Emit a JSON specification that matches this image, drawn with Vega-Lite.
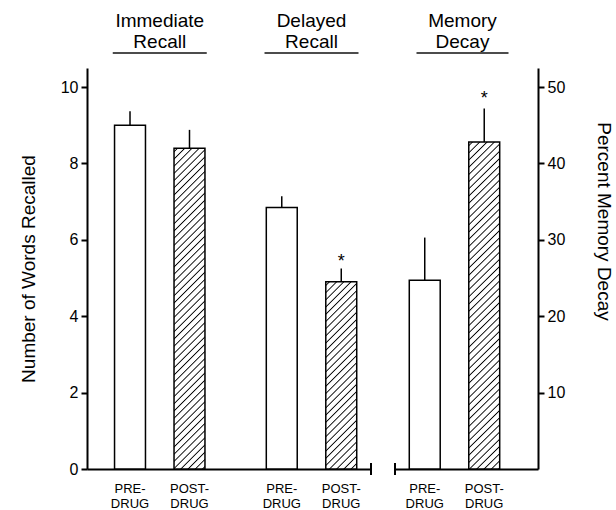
{
  "$schema": "https://vega.github.io/schema/vega-lite/v6.json",
  "background": "white",
  "padding": {"left": 19, "top": 12, "right": 10, "bottom": 0},
  "params": [
    {"name": "hatch", "value": [
      {"offset":0.0065,"color":"#fff"},{"offset":0.01,"color":"#000"},{"offset":0.0135,"color":"#fff"},
      {"offset":0.0265,"color":"#fff"},{"offset":0.03,"color":"#000"},{"offset":0.0335,"color":"#fff"},
      {"offset":0.0465,"color":"#fff"},{"offset":0.05,"color":"#000"},{"offset":0.0535,"color":"#fff"},
      {"offset":0.0665,"color":"#fff"},{"offset":0.07,"color":"#000"},{"offset":0.0735,"color":"#fff"},
      {"offset":0.0865,"color":"#fff"},{"offset":0.09,"color":"#000"},{"offset":0.0935,"color":"#fff"},
      {"offset":0.1065,"color":"#fff"},{"offset":0.11,"color":"#000"},{"offset":0.1135,"color":"#fff"},
      {"offset":0.1265,"color":"#fff"},{"offset":0.13,"color":"#000"},{"offset":0.1335,"color":"#fff"},
      {"offset":0.1465,"color":"#fff"},{"offset":0.15,"color":"#000"},{"offset":0.1535,"color":"#fff"},
      {"offset":0.1665,"color":"#fff"},{"offset":0.17,"color":"#000"},{"offset":0.1735,"color":"#fff"},
      {"offset":0.1865,"color":"#fff"},{"offset":0.19,"color":"#000"},{"offset":0.1935,"color":"#fff"},
      {"offset":0.2065,"color":"#fff"},{"offset":0.21,"color":"#000"},{"offset":0.2135,"color":"#fff"},
      {"offset":0.2265,"color":"#fff"},{"offset":0.23,"color":"#000"},{"offset":0.2335,"color":"#fff"},
      {"offset":0.2465,"color":"#fff"},{"offset":0.25,"color":"#000"},{"offset":0.2535,"color":"#fff"},
      {"offset":0.2665,"color":"#fff"},{"offset":0.27,"color":"#000"},{"offset":0.2735,"color":"#fff"},
      {"offset":0.2865,"color":"#fff"},{"offset":0.29,"color":"#000"},{"offset":0.2935,"color":"#fff"},
      {"offset":0.3065,"color":"#fff"},{"offset":0.31,"color":"#000"},{"offset":0.3135,"color":"#fff"},
      {"offset":0.3265,"color":"#fff"},{"offset":0.33,"color":"#000"},{"offset":0.3335,"color":"#fff"},
      {"offset":0.3465,"color":"#fff"},{"offset":0.35,"color":"#000"},{"offset":0.3535,"color":"#fff"},
      {"offset":0.3665,"color":"#fff"},{"offset":0.37,"color":"#000"},{"offset":0.3735,"color":"#fff"},
      {"offset":0.3865,"color":"#fff"},{"offset":0.39,"color":"#000"},{"offset":0.3935,"color":"#fff"},
      {"offset":0.4065,"color":"#fff"},{"offset":0.41,"color":"#000"},{"offset":0.4135,"color":"#fff"},
      {"offset":0.4265,"color":"#fff"},{"offset":0.43,"color":"#000"},{"offset":0.4335,"color":"#fff"},
      {"offset":0.4465,"color":"#fff"},{"offset":0.45,"color":"#000"},{"offset":0.4535,"color":"#fff"},
      {"offset":0.4665,"color":"#fff"},{"offset":0.47,"color":"#000"},{"offset":0.4735,"color":"#fff"},
      {"offset":0.4865,"color":"#fff"},{"offset":0.49,"color":"#000"},{"offset":0.4935,"color":"#fff"},
      {"offset":0.5065,"color":"#fff"},{"offset":0.51,"color":"#000"},{"offset":0.5135,"color":"#fff"},
      {"offset":0.5265,"color":"#fff"},{"offset":0.53,"color":"#000"},{"offset":0.5335,"color":"#fff"},
      {"offset":0.5465,"color":"#fff"},{"offset":0.55,"color":"#000"},{"offset":0.5535,"color":"#fff"},
      {"offset":0.5665,"color":"#fff"},{"offset":0.57,"color":"#000"},{"offset":0.5735,"color":"#fff"},
      {"offset":0.5865,"color":"#fff"},{"offset":0.59,"color":"#000"},{"offset":0.5935,"color":"#fff"},
      {"offset":0.6065,"color":"#fff"},{"offset":0.61,"color":"#000"},{"offset":0.6135,"color":"#fff"},
      {"offset":0.6265,"color":"#fff"},{"offset":0.63,"color":"#000"},{"offset":0.6335,"color":"#fff"},
      {"offset":0.6465,"color":"#fff"},{"offset":0.65,"color":"#000"},{"offset":0.6535,"color":"#fff"},
      {"offset":0.6665,"color":"#fff"},{"offset":0.67,"color":"#000"},{"offset":0.6735,"color":"#fff"},
      {"offset":0.6865,"color":"#fff"},{"offset":0.69,"color":"#000"},{"offset":0.6935,"color":"#fff"},
      {"offset":0.7065,"color":"#fff"},{"offset":0.71,"color":"#000"},{"offset":0.7135,"color":"#fff"},
      {"offset":0.7265,"color":"#fff"},{"offset":0.73,"color":"#000"},{"offset":0.7335,"color":"#fff"},
      {"offset":0.7465,"color":"#fff"},{"offset":0.75,"color":"#000"},{"offset":0.7535,"color":"#fff"},
      {"offset":0.7665,"color":"#fff"},{"offset":0.77,"color":"#000"},{"offset":0.7735,"color":"#fff"},
      {"offset":0.7865,"color":"#fff"},{"offset":0.79,"color":"#000"},{"offset":0.7935,"color":"#fff"},
      {"offset":0.8065,"color":"#fff"},{"offset":0.81,"color":"#000"},{"offset":0.8135,"color":"#fff"},
      {"offset":0.8265,"color":"#fff"},{"offset":0.83,"color":"#000"},{"offset":0.8335,"color":"#fff"},
      {"offset":0.8465,"color":"#fff"},{"offset":0.85,"color":"#000"},{"offset":0.8535,"color":"#fff"},
      {"offset":0.8665,"color":"#fff"},{"offset":0.87,"color":"#000"},{"offset":0.8735,"color":"#fff"},
      {"offset":0.8865,"color":"#fff"},{"offset":0.89,"color":"#000"},{"offset":0.8935,"color":"#fff"},
      {"offset":0.9065,"color":"#fff"},{"offset":0.91,"color":"#000"},{"offset":0.9135,"color":"#fff"},
      {"offset":0.9265,"color":"#fff"},{"offset":0.93,"color":"#000"},{"offset":0.9335,"color":"#fff"},
      {"offset":0.9465,"color":"#fff"},{"offset":0.95,"color":"#000"},{"offset":0.9535,"color":"#fff"},
      {"offset":0.9665,"color":"#fff"},{"offset":0.97,"color":"#000"},{"offset":0.9735,"color":"#fff"},
      {"offset":0.9865,"color":"#fff"},{"offset":0.99,"color":"#000"},{"offset":0.9935,"color":"#fff"}
    ]}
  ],
  "data": {"values": [
    {"group": "Immediate Recall", "heading": "Immediate\nRecall", "cond": "PRE", "label": "PRE-\nDRUG", "mean": 9.0, "upper": 9.37, "sig": false},
    {"group": "Immediate Recall", "heading": "Immediate\nRecall", "cond": "POST", "label": "POST-\nDRUG", "mean": 8.4, "upper": 8.88, "sig": false},
    {"group": "Delayed Recall", "heading": "Delayed\nRecall", "cond": "PRE", "label": "PRE-\nDRUG", "mean": 6.85, "upper": 7.14, "sig": false},
    {"group": "Delayed Recall", "heading": "Delayed\nRecall", "cond": "POST", "label": "POST-\nDRUG", "mean": 4.9, "upper": 5.25, "sig": true},
    {"group": "Memory Decay", "heading": "Memory\nDecay", "cond": "PRE", "label": "PRE-\nDRUG", "mean": 24.7, "upper": 30.3, "sig": false},
    {"group": "Memory Decay", "heading": "Memory\nDecay", "cond": "POST", "label": "POST-\nDRUG", "mean": 42.8, "upper": 47.2, "sig": true}
  ]},
  "spacing": 24,
  "bounds": "flush",
  "hconcat": [
    {
      "width": 284,
      "height": 401,
      "transform": [{"filter": "datum.group !== 'Memory Decay'"}],
      "encoding": {
        "x": {"field": "group", "type": "nominal", "title": null,
              "scale": {"domain": ["Immediate Recall", "Delayed Recall"], "paddingInner": 0.216, "paddingOuter": 0.0437, "align": 1}},
        "y": {"field": "mean", "type": "quantitative", "title": "Number of Words Recalled",
              "scale": {"domain": [0, 10.5], "nice": false},
              "axis": {"values": [0, 2, 4, 6, 8, 10], "tickSize": 6, "labelFontSize": 16, "labelPadding": 3, "titleFontSize": 19, "titlePadding": 22}}
      },
      "layer": [
        {"transform": [{"filter": "datum.cond === 'PRE'"}],
         "mark": {"type": "bar", "fill": "white", "stroke": "black", "strokeWidth": 1.5},
         "encoding": {"xOffset": {"field": "cond", "type": "nominal", "scale": {"domain": ["PRE", "POST"], "paddingInner": 0.48, "paddingOuter": 0.24}}}},
        {"transform": [{"filter": "datum.group === 'Immediate Recall' && datum.cond === 'POST'"}],
         "mark": {"type": "bar", "fill": {"expr": "{gradient: 'linear', x1: 0, y1: 0, x2: 0.1071, y2: 1.1119, stops: hatch}"}, "stroke": "black", "strokeWidth": 1.5},
         "encoding": {"xOffset": {"field": "cond", "type": "nominal", "scale": {"domain": ["PRE", "POST"], "paddingInner": 0.48, "paddingOuter": 0.24}}}},
        {"transform": [{"filter": "datum.group === 'Delayed Recall' && datum.cond === 'POST'"}],
         "mark": {"type": "bar", "fill": {"expr": "{gradient: 'linear', x1: 0, y1: 0, x2: 0.3093, y2: 1.8731, stops: hatch}"}, "stroke": "black", "strokeWidth": 1.5},
         "encoding": {"xOffset": {"field": "cond", "type": "nominal", "scale": {"domain": ["PRE", "POST"], "paddingInner": 0.48, "paddingOuter": 0.24}}}},
        {"mark": {"type": "rule", "stroke": "black", "strokeWidth": 1.5},
         "encoding": {"xOffset": {"field": "cond", "type": "nominal", "scale": {"domain": ["PRE", "POST"], "paddingInner": 0.48, "paddingOuter": 0.24}},
                      "y2": {"field": "upper"}}},
        {"transform": [{"filter": "datum.sig"}],
         "mark": {"type": "text", "text": "*", "fontSize": 18, "dy": -7, "font": "Liberation Sans", "color": "black"},
         "encoding": {"xOffset": {"field": "cond", "type": "nominal", "scale": {"domain": ["PRE", "POST"], "paddingInner": 0.48, "paddingOuter": 0.24}},
                      "y": {"field": "upper", "type": "quantitative"}}},
        {"mark": {"type": "text", "lineBreak": "\n", "fontSize": 13, "lineHeight": 15, "baseline": "alphabetic", "dy": 24, "font": "Liberation Sans", "color": "black"},
         "encoding": {"xOffset": {"field": "cond", "type": "nominal", "scale": {"domain": ["PRE", "POST"], "paddingInner": 0.48, "paddingOuter": 0.24}},
                      "y": {"datum": 0},
                      "text": {"field": "label"}}},
        {"transform": [{"filter": "datum.cond === 'PRE'"}],
         "mark": {"type": "text", "lineBreak": "\n", "fontSize": 19, "lineHeight": 21, "baseline": "alphabetic", "dy": -41, "font": "Liberation Sans", "color": "black"},
         "encoding": {"y": {"datum": 10.5}, "text": {"field": "heading"}}},
        {"transform": [{"filter": "datum.cond === 'PRE'"}],
         "mark": {"type": "tick", "size": 94, "thickness": 2, "color": "black", "yOffset": -15},
         "encoding": {"y": {"datum": 10.5}}},
        {"transform": [{"filter": "datum.group === 'Delayed Recall' && datum.cond === 'POST'"}],
         "mark": {"type": "rule", "stroke": "black", "strokeWidth": 2},
         "encoding": {"x": {"datum": "Delayed Recall", "bandPosition": 1}, "y": {"datum": -0.16}, "y2": {"datum": 0.16}}}
      ]
    },
    {
      "width": 143,
      "height": 401,
      "transform": [{"filter": "datum.group === 'Memory Decay'"}],
      "encoding": {
        "x": {"field": "group", "type": "nominal", "title": null,
              "scale": {"domain": ["Memory Decay"], "paddingInner": 0, "paddingOuter": 0.0296, "align": 0}},
        "y": {"field": "mean", "type": "quantitative", "title": "Percent Memory Decay",
              "scale": {"domain": [0, 52.5], "nice": false},
              "axis": {"orient": "right", "values": [10, 20, 30, 40, 50], "tickSize": 6, "labelFontSize": 16, "labelPadding": 3, "titleFontSize": 19, "titlePadding": 29, "titleY": 153}}
      },
      "layer": [
        {"transform": [{"filter": "datum.cond === 'PRE'"}],
         "mark": {"type": "bar", "fill": "white", "stroke": "black", "strokeWidth": 1.5},
         "encoding": {"xOffset": {"field": "cond", "type": "nominal", "scale": {"domain": ["PRE", "POST"], "paddingInner": 0.496, "paddingOuter": 0.364}}}},
        {"transform": [{"filter": "datum.cond === 'POST'"}],
         "mark": {"type": "bar", "fill": {"expr": "{gradient: 'linear', x1: 0, y1: 0, x2: 0.1019, y2: 1.0917, stops: hatch}"}, "stroke": "black", "strokeWidth": 1.5},
         "encoding": {"xOffset": {"field": "cond", "type": "nominal", "scale": {"domain": ["PRE", "POST"], "paddingInner": 0.496, "paddingOuter": 0.364}}}},
        {"mark": {"type": "rule", "stroke": "black", "strokeWidth": 1.5},
         "encoding": {"xOffset": {"field": "cond", "type": "nominal", "scale": {"domain": ["PRE", "POST"], "paddingInner": 0.496, "paddingOuter": 0.364}},
                      "y2": {"field": "upper"}}},
        {"transform": [{"filter": "datum.sig"}],
         "mark": {"type": "text", "text": "*", "fontSize": 18, "dy": -9, "font": "Liberation Sans", "color": "black"},
         "encoding": {"xOffset": {"field": "cond", "type": "nominal", "scale": {"domain": ["PRE", "POST"], "paddingInner": 0.496, "paddingOuter": 0.364}},
                      "y": {"field": "upper", "type": "quantitative"}}},
        {"mark": {"type": "text", "lineBreak": "\n", "fontSize": 13, "lineHeight": 15, "baseline": "alphabetic", "dy": 24, "font": "Liberation Sans", "color": "black"},
         "encoding": {"xOffset": {"field": "cond", "type": "nominal", "scale": {"domain": ["PRE", "POST"], "paddingInner": 0.496, "paddingOuter": 0.364}},
                      "y": {"datum": 0},
                      "text": {"field": "label"}}},
        {"transform": [{"filter": "datum.cond === 'PRE'"}],
         "mark": {"type": "text", "lineBreak": "\n", "fontSize": 19, "lineHeight": 21, "baseline": "alphabetic", "dy": -41, "font": "Liberation Sans", "color": "black"},
         "encoding": {"y": {"datum": 52.5}, "text": {"field": "heading"}}},
        {"transform": [{"filter": "datum.cond === 'PRE'"}],
         "mark": {"type": "tick", "size": 92, "thickness": 2, "color": "black", "yOffset": -15},
         "encoding": {"y": {"datum": 52.5}}},
        {"transform": [{"filter": "datum.cond === 'POST'"}],
         "mark": {"type": "rule", "stroke": "black", "strokeWidth": 2},
         "encoding": {"x": {"datum": "Memory Decay", "bandPosition": 0}, "y": {"datum": -0.8}, "y2": {"datum": 0.8}}}
      ]
    }
  ],
  "config": {
    "view": {"stroke": null},
    "axis": {"labelFont": "Liberation Sans", "titleFont": "Liberation Sans", "domainColor": "black", "tickColor": "black", "labelColor": "black", "titleColor": "black", "domainWidth": 2, "tickWidth": 2, "grid": false, "titleFontWeight": "normal"},
    "axisX": {"labels": false, "ticks": false}
  }
}
